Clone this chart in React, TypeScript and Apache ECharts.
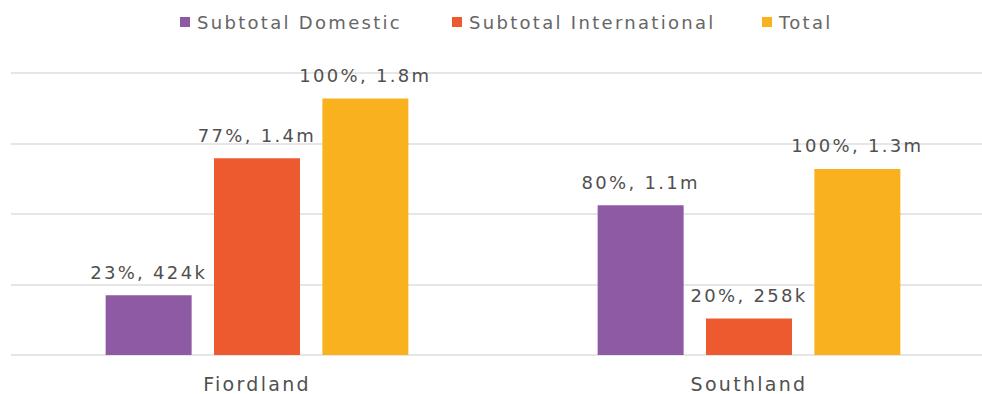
import React, { useEffect, useRef } from "react";
import * as echarts from "echarts";

const categories = ["Fiordland", "Southland"];
const seriesNames = ["Subtotal Domestic", "Subtotal International", "Total"];
const domestic = [424000, 1062000];
const international = [1396000, 258000];
const total = [1820000, 1320000];
const colors = ["#8d5aa3", "#ee5a30", "#f9b21e"];
const legendLeft = [180, 452, 762];

function fmtValue(v: number): string {
  if (v >= 1000000) return (v / 1000000).toFixed(1) + "m";
  return Math.round(v / 1000) + "k";
}

export default function App() {
  const ref = useRef<HTMLDivElement>(null);
  useEffect(() => {
    if (!ref.current) return;
    const chart = echarts.init(ref.current, null, { renderer: "svg" });
    const font = "DejaVu Sans";
    const dataSets = [domestic, international, total];
    chart.setOption({
      animation: false,
      legend: seriesNames.map((n, i) => ({
        data: [n],
        left: legendLeft[i],
        top: 13,
        padding: 0,
        itemWidth: 10,
        itemHeight: 10,
        icon: "rect",
        textStyle: { fontFamily: font, fontSize: 18, color: "#666666", padding: [0, 0, 0, 2] },
      })),
      grid: { left: 11, right: 0, top: 73, bottom: 39 },
      xAxis: {
        type: "category",
        data: categories,
        axisLine: { show: false },
        axisTick: { show: false },
        axisLabel: { fontFamily: font, fontSize: 19, color: "#505050", margin: 19 },
      },
      yAxis: {
        type: "value",
        min: 0,
        max: 2000000,
        interval: 500000,
        axisLabel: { show: false },
        axisLine: { show: false },
        axisTick: { show: false },
        splitLine: { lineStyle: { color: "#e6e6e6", width: 2 } },
      },
      series: seriesNames.map((n, i) => ({
        name: n,
        type: "bar",
        data: dataSets[i],
        barWidth: 86,
        barGap: "26%",
        itemStyle: { color: colors[i] },
        label: {
          show: true,
          position: "top",
          distance: 14,
          fontFamily: font,
          fontSize: 18,
          color: "#505050",
          formatter: (p: any) =>
            Math.round((p.value / total[p.dataIndex]) * 100) + "%, " + fmtValue(p.value),
        },
      })),
    });
    return () => chart.dispose();
  }, []);
  return (
    <div
      style={{
        position: "fixed",
        left: 0,
        top: 0,
        width: 982,
        height: 394,
        overflow: "hidden",
        background: "#fff",
      }}
    >
      <style>{"#chartbox svg text{letter-spacing:2.3px}"}</style>
      <div id="chartbox" ref={ref} style={{ width: 995, height: 394 }} />
    </div>
  );
}
